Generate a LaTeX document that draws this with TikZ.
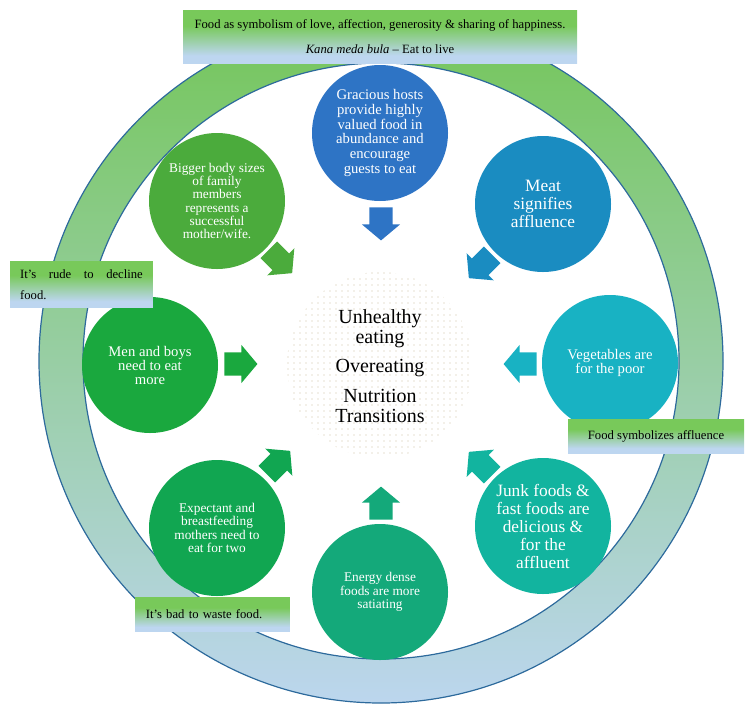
\documentclass[tikz,border=0pt]{standalone}
\usepackage{fontspec}
\setmainfont{Liberation Serif}
\usetikzlibrary{patterns.meta,shapes.arrows}
\definecolor{ringgreen}{HTML}{74C65A}
\definecolor{ringblue}{HTML}{BCD6EE}
\definecolor{ringline}{HTML}{2D6A9C}
\definecolor{boxgreen}{HTML}{78C95A}
\definecolor{boxblue}{HTML}{BDD6F0}
\definecolor{cTop}{HTML}{2E74C5}
\definecolor{cMeat}{HTML}{1A8CC1}
\definecolor{cVeg}{HTML}{18B2C3}
\definecolor{cJunk}{HTML}{12B49F}
\definecolor{cEnergy}{HTML}{14A97A}
\definecolor{cExp}{HTML}{11A651}
\definecolor{cMen}{HTML}{1AA83E}
\definecolor{cBig}{HTML}{4BAB3C}
\definecolor{dotc}{HTML}{CDBF9E}
\pgfdeclareverticalshading{boxshade}{100bp}{color(0bp)=(boxblue); color(32bp)=(boxblue); color(60bp)=(boxgreen); color(100bp)=(boxgreen)}
\tikzset{
  sat/.style={circle, minimum size=102pt, inner sep=0pt, text=white, align=center},
  barrow/.style={single arrow, draw=none, minimum height=24.75pt, inner xsep=0pt, inner ysep=8.6pt,
    single arrow head extend=5.6pt, single arrow tip angle=100, single arrow head indent=0pt},
  lbl/.style={shading=boxshade, inner sep=0pt, font=\fontsize{9.5}{12}\selectfont}
}
\begin{document}
\begin{tikzpicture}[x=0.75pt,y=-0.75pt]
\useasboundingbox (0,0) rectangle (756,711);
\coordinate (O) at (381,361);
% ring
\shade[even odd rule, top color=ringgreen, bottom color=ringblue] (O) circle (342) (O) circle (298);
\draw[ringline, line width=0.9pt] (O) circle (342) (O) circle (298);
% centre
\node[circle, minimum size=139.5pt, inner sep=0pt, pattern={Dots[distance=4.5pt,radius=0.55pt]}, pattern color=dotc] (ctr) at (380,365) {};
\node[align=center, font=\fontsize{15}{15}\selectfont] (ctrtxt) at (380,366) {Unhealthy\\eating\\[7pt]Overeating\\[7pt]Nutrition\\Transitions};
% satellites
\node[sat, fill=cTop, font=\fontsize{11}{11}\selectfont] (s1) at (380,133) {Gracious hosts\\provide highly\\valued food in\\abundance and\\encourage\\guests to eat};
\node[sat, fill=cMeat, font=\fontsize{13}{13.5}\selectfont] (s2) at (543,204) {Meat\\signifies\\affluence};
\node[sat, fill=cVeg, font=\fontsize{11}{10.7}\selectfont] (s3) at (610,363) {Vegetables are\\for the poor};
\node[sat, fill=cJunk, font=\fontsize{13}{13.5}\selectfont] (s4) at (543,526) {Junk foods \&\\fast foods are\\delicious \&\\for the\\affluent};
\node[sat, fill=cEnergy, font=\fontsize{10}{10}\selectfont] (s5) at (380,592) {Energy dense\\foods are more\\satiating};
\node[sat, fill=cExp, font=\fontsize{10}{10}\selectfont] (s6) at (217,528) {Expectant and\\breastfeeding\\mothers need to\\eat for two};
\node[sat, fill=cMen, font=\fontsize{11}{10.5}\selectfont] (s7) at (150,365) {Men and boys\\need to eat\\more};
\node[sat, fill=cBig, font=\fontsize{10}{10}\selectfont] (s8) at (217,201) {Bigger body sizes\\of family\\members\\represents a\\successful\\mother/wife.};
% arrows
\node[barrow, fill=cTop, rotate=-90] (a1) at (381,219) {};
\node[barrow, fill=cMeat, rotate=-135] (a2) at (484,263) {};
\node[barrow, fill=cVeg, rotate=180] (a3) at (525,364) {};
\node[barrow, fill=cJunk, rotate=135] (a4) at (484,467) {};
\node[barrow, fill=cEnergy, rotate=90] (a5) at (381,508) {};
\node[barrow, fill=cExp, rotate=45] (a6) at (275,466) {};
\node[barrow, fill=cMen, rotate=0] (a7) at (236,364) {};
\node[barrow, fill=cBig, rotate=-45] (a8) at (277,258) {};
% labels
\node[lbl, minimum width=295.5pt, minimum height=39.75pt, align=center, font=\fontsize{9.5}{19}\selectfont] (b1) at (380,36.5)
  {Food as symbolism of love, affection, generosity \& sharing of happiness.\\\textit{Kana meda bula} – Eat to live};
\node[lbl, minimum width=107pt, minimum height=35pt, text width=92pt, align=justify, font=\fontsize{9.5}{16}\selectfont] (b2) at (81.5,284.5)
  {It’s rude to decline\linebreak food.};
\node[lbl, minimum width=132pt, minimum height=25.5pt, align=center] (b3) at (656,436) {Food symbolizes affluence};
\node[lbl, minimum width=116pt, minimum height=26pt, text width=100pt, align=left] (b4) at (212.5,614.5) {It’s bad to waste food.};
\end{tikzpicture}
\end{document}
